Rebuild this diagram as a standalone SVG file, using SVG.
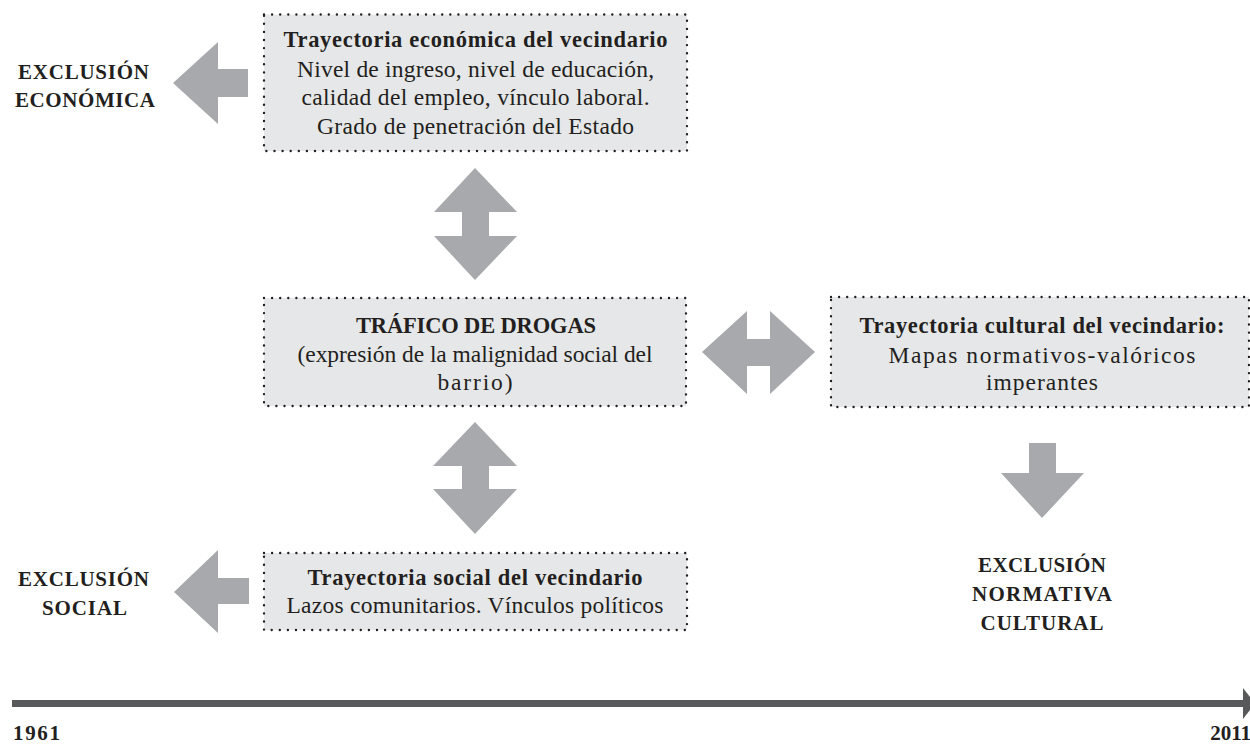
<svg xmlns="http://www.w3.org/2000/svg" width="1250" height="745" viewBox="0 0 1250 745">
<style>
.box{fill:#e6e7e8;stroke:#231f20;stroke-width:2.4;stroke-dasharray:0 8.1;stroke-linecap:round}
.arr{fill:#a7a9ac}
text{font-family:"Liberation Serif","Times New Roman",serif;fill:#231f20;text-anchor:middle}
.t{font-size:22.5px;font-weight:bold}
.b{font-size:23.5px}
.lbl{font-size:21px;font-weight:bold}
.yr{font-size:21px;font-weight:bold}
</style>
<rect width="1250" height="745" fill="#ffffff"/>
<g id="connectors">
<polygon class="arr" points="173,83 218,42 218,69 248,69 248,97 218,97 218,124"/>
<polygon class="arr" points="174,592 218,550 218,578 249,578 249,604 218,604 218,633"/>
<polygon class="arr" points="475,168 517,212 489,212 489,236 517,236 475,280 434,236 462,236 462,212 434,212"/>
<polygon class="arr" points="475,422 517,466 489,466 489,489 517,489 475,534 433,489 462,489 462,466 433,466"/>
<polygon class="arr" points="702,352 747,311 747,339 770,339 770,311 815,352 770,394 770,366 747,366 747,394"/>
<polygon class="arr" points="1029,443 1056,443 1056,473 1084,473 1042,518 1001,473 1029,473"/>
</g>
<g id="timeline">
<rect x="12" y="700" width="1233" height="7" fill="#58595b"/>
<polygon points="1243,688 1255,703.5 1243,719" fill="#58595b"/>
<text class="yr" x="13" y="740" style="text-anchor:start" textLength="47">1961</text>
<text class="yr" x="1251" y="740" style="text-anchor:end">2011</text>
</g>
<g id="node-economica">
<rect class="box" x="264" y="14.5" width="423" height="136.5"/>
<text class="t" x="475.5" y="47" textLength="384">Trayectoria económica del vecindario</text>
<text class="b" x="475.5" y="76.5" textLength="357">Nivel de ingreso, nivel de educación,</text>
<text class="b" x="475.5" y="105" textLength="348">calidad del empleo, vínculo laboral.</text>
<text class="b" x="475.5" y="133.5" textLength="317">Grado de penetración del Estado</text>
</g>
<g id="node-trafico">
<rect class="box" x="264" y="298" width="422" height="108"/>
<text class="t" x="476" y="333" textLength="240">TRÁFICO DE DROGAS</text>
<text class="b" x="475" y="362" textLength="355">(expresión de la malignidad social del</text>
<text class="b" x="475" y="390" textLength="75">barrio)</text>
</g>
<g id="node-cultural">
<rect class="box" x="831" y="297" width="418" height="110"/>
<text class="t" x="1042" y="333" textLength="365">Trayectoria cultural del vecindario:</text>
<text class="b" x="1042" y="362.5" textLength="307">Mapas normativos-valóricos</text>
<text class="b" x="1042" y="390" textLength="112">imperantes</text>
</g>
<g id="node-social">
<rect class="box" x="264" y="553" width="423" height="77"/>
<text class="t" x="475" y="585" textLength="335">Trayectoria social del vecindario</text>
<text class="b" x="475" y="613" textLength="377">Lazos comunitarios. Vínculos políticos</text>
</g>
<g id="label-economica">
<text class="lbl" x="83.5" y="79" textLength="131">EXCLUSIÓN</text>
<text class="lbl" x="85" y="107" textLength="140">ECONÓMICA</text>
</g>
<g id="label-social">
<text class="lbl" x="83.5" y="586" textLength="131">EXCLUSIÓN</text>
<text class="lbl" x="84.5" y="615" textLength="85">SOCIAL</text>
</g>
<g id="label-cultural">
<text class="lbl" x="1042" y="572" textLength="128">EXCLUSIÓN</text>
<text class="lbl" x="1042" y="601" textLength="140">NORMATIVA</text>
<text class="lbl" x="1042" y="630" textLength="123">CULTURAL</text>
</g>
</svg>
